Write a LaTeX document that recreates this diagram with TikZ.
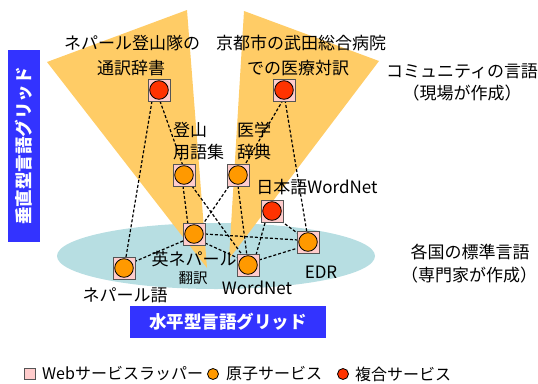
\documentclass[tikz,border=0pt]{standalone}
\usepackage{fontspec}
\setmainfont{Noto Sans CJK JP}
\usetikzlibrary{calc}
\definecolor{fanorange}{HTML}{FFCC66}
\definecolor{ellblue}{HTML}{B7DEE2}
\definecolor{gridblue}{HTML}{3333FF}
\definecolor{boxpink}{HTML}{FFCCCC}
\definecolor{boxgray}{HTML}{555555}
\definecolor{atomor}{HTML}{FF9900}
\definecolor{compred}{HTML}{FF3300}
\tikzset{
  wrapper/.style={rectangle, minimum size=22pt, inner sep=0pt, fill=boxpink, draw=boxgray, line width=0.9pt},
  atom/.style={wrapper, path picture={\filldraw[fill=atomor, draw=black, line width=0.8pt] (path picture bounding box.center) circle (9.3pt);}},
  comp/.style={wrapper, path picture={\filldraw[fill=compred, draw=black, line width=0.8pt] (path picture bounding box.center) circle (9.3pt);}},
  link/.style={draw=black, dashed, dash pattern=on 3pt off 2pt, line width=1.2pt},
  lbl/.style={inner sep=0pt, font=\fontsize{17}{20}\selectfont},
  lbll/.style={lbl, anchor=west},
  legtxt/.style={lbll, font=\fontsize{16}{18}\selectfont},
  gridlbl/.style={fill=gridblue, text=white, inner sep=0pt, font=\fontsize{17.5}{20}\selectfont\bfseries},
}
\begin{document}
\begin{tikzpicture}[x=1pt, y=-1pt]
\useasboundingbox (0,0) rectangle (538,383);
% horizontal ellipse
\fill[ellblue] (216,256) ellipse (159 and 33);
% fans
\fill[fanorange] (47,62) -- (187,10) -- (207,268) -- cycle;
\fill[fanorange] (244,11) -- (379,61) -- (229,259) -- cycle;
% service nodes
\node[comp] (N1) at (159,90) {};
\node[comp] (M1) at (284,90) {};
\node[atom] (T) at (184,175) {};
\node[atom] (I) at (238,175) {};
\node[comp] (J) at (272,211) {};
\node[atom] (E) at (194,234) {};
\node[atom] (NP) at (124,268) {};
\node[atom] (W) at (248,265) {};
\node[atom] (EDR) at (308,242) {};
% connectors
\begin{scope}[link]
\draw ($(N1)+(-7,11)$) -- ($(NP)+(2,-11)$);
\draw ($(N1)+(1,11)$) -- ($(T)+(-1,-9)$);
\draw ($(M1)+(-1,10)$) -- ($(I)+(5,-7)$);
\draw ($(M1)+(1,10)$) -- ($(EDR)+(-1,-9)$);
\draw ($(T)+(-1,11)$) -- ($(E)+(-6,-9)$);
\draw ($(T)+(8,11)$) -- ($(W)+(-5,-9)$);
\draw ($(I)+(-9,11)$) -- ($(E)+(9,-10)$);
\draw ($(I)+(0,11)$) -- ($(W)+(-1,-9)$);
\draw ($(E)+(11,0)$) -- ($(EDR)+(-10,-2)$);
\draw ($(E)+(11,9)$) -- ($(W)+(-10,-7)$);
\draw ($(E)+(-11,7)$) -- ($(NP)+(12,-7)$);
\draw ($(J)+(-7,12)$) -- ($(W)+(8,-10)$);
\draw ($(J)+(9,10)$) -- ($(EDR)+(-8,-7)$);
\draw ($(W)+(11,-5)$) -- ($(EDR)+(-10,6)$);
\end{scope}
% redraw nodes on top
\node[comp] at (N1) {};
\node[comp] at (M1) {};
\node[atom] at (T) {};
\node[atom] at (I) {};
\node[comp] at (J) {};
\node[atom] at (E) {};
\node[atom] at (NP) {};
\node[atom] at (W) {};
\node[atom] at (EDR) {};
% labels
\node[lbl] (l1a) at (132,43) {ネパール登山隊の};
\node[lbl] (l1b) at (131,68) {通訳辞書};
\node[lbl] (l2a) at (301,43) {京都市の武田総合病院};
\node[lbl] (l2b) at (298,68) {での医療対訳};
\node[lbl] (l3a) at (462,71) {コミュニティの言語};
\node[lbl] (l3b) at (462,93) {（現場が作成）};
\node[lbll] (lTa) at (173,130) {登山};
\node[lbll] (lTb) at (173,152) {用語集};
\node[lbll] (lIa) at (237,130) {医学};
\node[lbll] (lIb) at (237,152) {辞典};
\node[lbl] (lJ) at (317,187) {日本語WordNet};
\node[lbl] (lEa) at (194,259) {英ネパール};
\node[lbl, font=\fontsize{14.5}{16}\selectfont] (lEb) at (193,278) {翻訳};
\node[lbl] (lNP) at (125,295) {ネパール語};
\node[lbl] (lW) at (257,288) {WordNet};
\node[lbl] (lEDR) at (321,272) {EDR};
\node[lbl] (l4a) at (470,252) {各国の標準言語};
\node[lbl] (l4b) at (469,275) {（専門家が作成）};
% grid labels
\node[gridlbl, minimum width=192pt, minimum height=32pt, rotate=90] (vg) at (24,146) {垂直型言語グリッド};
\node[gridlbl, minimum width=196pt, minimum height=32pt] (hg) at (228,322) {水平型言語グリッド};
% legend
\node[rectangle, minimum size=11pt, inner sep=0pt, fill=boxpink, draw=boxgray, line width=0.8pt] (lg1) at (30,374) {};
\node[legtxt] (lg1t) at (42,374) {Webサービスラッパー};
\node[circle, minimum size=11pt, inner sep=0pt, fill=atomor, draw=black, line width=0.8pt] (lg2) at (213,374) {};
\node[legtxt] (lg2t) at (226,374) {原子サービス};
\node[circle, minimum size=11pt, inner sep=0pt, fill=compred, draw=black, line width=0.8pt] (lg3) at (343,374) {};
\node[legtxt] (lg3t) at (355,374) {複合サービス};
\end{tikzpicture}
\end{document}
